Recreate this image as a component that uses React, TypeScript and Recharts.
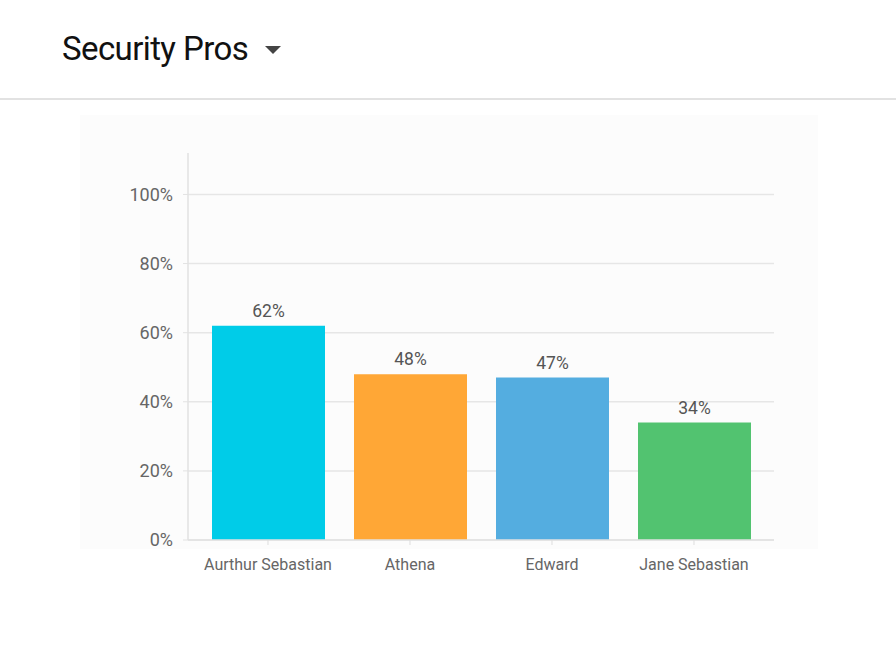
import React from "react";
import { BarChart, Bar, XAxis, YAxis, CartesianGrid, Cell, LabelList } from "recharts";

const categories = ["Aurthur Sebastian", "Athena", "Edward", "Jane Sebastian"];
const values = [62, 48, 47, 34];
const colors = ["#00CCE8", "#FFA736", "#54ADE0", "#52C370"];
const yTicks = [0, 20, 40, 60, 80, 100];

const data = categories.map((name, i) => ({ name, value: values[i] }));

const axisFont = "Roboto, 'Noto Sans', sans-serif";

export default function App() {
  return (
    <div
      style={{
        position: "absolute",
        left: 0,
        top: 0,
        width: 896,
        height: 650,
        background: "#ffffff",
        overflow: "hidden",
        fontFamily: axisFont,
      }}
    >
      <div
        style={{
          position: "absolute",
          left: 62,
          top: 27,
          fontSize: 33,
          letterSpacing: -0.6,
          color: "#111",
          fontFamily: axisFont,
          lineHeight: "44px",
          whiteSpace: "nowrap",
        }}
      >
        Security Pros
      </div>
      <svg style={{ position: "absolute", left: 264, top: 45 }} width={18} height={10}>
        <polygon points="1,1 17,1 9,9" fill="#444" />
      </svg>
      <div
        style={{
          position: "absolute",
          left: 0,
          top: 98,
          width: 896,
          height: 2,
          background: "#e2e2e2",
        }}
      />
      <div
        style={{
          position: "absolute",
          left: 80,
          top: 115,
          width: 738,
          height: 434,
          background: "#fcfcfc",
        }}
      />
      <div style={{ position: "absolute", left: 80, top: 115 }}>
        <BarChart
          width={738}
          height={485}
          data={data}
          margin={{ top: 38, right: 44, left: 0, bottom: 0 }}
        >
          <CartesianGrid vertical={false} stroke="#e6e6e6" strokeWidth={1.5} syncWithTicks />
          <XAxis
            dataKey="name"
            padding={{ left: 9, right: 9 }}
            height={60}
            interval={0}
            tickSize={5}
            tickMargin={14}
            axisLine={{ stroke: "#e2e2e2", strokeWidth: 1.5 }}
            tickLine={{ stroke: "#dddddd" }}
            tick={{ fill: "#666", fontSize: 16, fontFamily: axisFont }}
          />
          <YAxis
            domain={[0, 112]}
            ticks={yTicks}
            width={108}
            tickSize={5}
            tickMargin={10}
            tickFormatter={(v) => `${v}%`}
            axisLine={{ stroke: "#e2e2e2", strokeWidth: 1.5 }}
            tickLine={{ stroke: "#e2e2e2" }}
            tick={{ fill: "#666", fontSize: 18, fontFamily: axisFont }}
          />
          <Bar dataKey="value" barSize={113} isAnimationActive={false}>
            {data.map((d, i) => (
              <Cell key={d.name} fill={colors[i]} />
            ))}
            <LabelList
              dataKey="value"
              position="top"
              offset={9}
              formatter={(v: any) => `${v}%`}
              style={{ fill: "#555", fontSize: 17.5, fontFamily: axisFont }}
            />
          </Bar>
        </BarChart>
      </div>
    </div>
  );
}
